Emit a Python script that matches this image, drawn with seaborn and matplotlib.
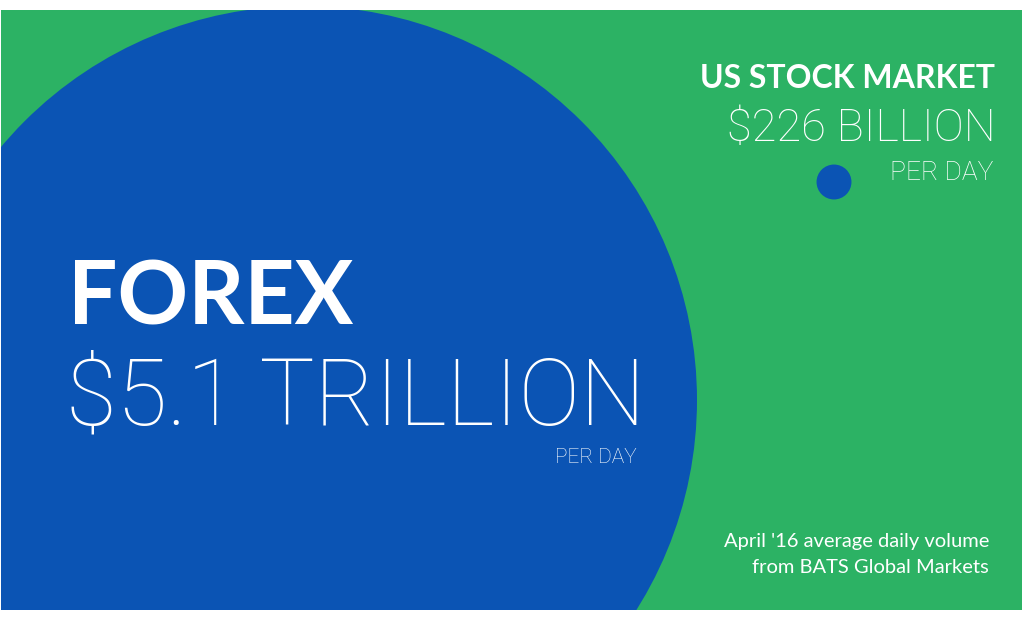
import matplotlib
matplotlib.use('Agg')
import matplotlib.pyplot as plt
import seaborn as sns
import pandas as pd

# data
markets = ['FOREX', 'US STOCK MARKET']
volume_bn = [5100, 226]          # average daily volume, billions USD
amounts = ['$5.1 TRILLION', '$226 BILLION']
unit = 'PER DAY'
source = "April '16 average daily volume\nfrom BATS Global Markets"

GREEN = '#2cb264'
BLUE = '#0b54b4'
DPI = 100
LIGHT = ['Roboto', 'DejaVu Sans']

sns.set_theme(style='white')
plt.rcParams['font.family'] = ['Lato', 'DejaVu Sans']

fig = plt.figure(figsize=(10.24, 6.21), dpi=DPI, facecolor='white')
# axes = green panel, data units = pixels
ax = fig.add_axes([1 / 1024, 11 / 621, 1021 / 1024, 600 / 621])
ax.set_facecolor(GREEN)

df = pd.DataFrame({'market': markets, 'volume': volume_bn,
                   'cx': [303, 834], 'cy': [400, 182]})

# circle radius proportional to volume (big circle ~394 px)
r_max = 394
sizes = {v: (2 * r_max * v / max(volume_bn) * 72 / DPI) ** 2 for v in volume_bn}

sns.scatterplot(data=df, x='cx', y='cy', size='volume', sizes=sizes,
                color=BLUE, linewidth=0, legend=False, ax=ax)

ax.set_xlim(1, 1022)
ax.set_ylim(610, 10)
ax.set(xticks=[], yticks=[], xlabel='', ylabel='')
sns.despine(ax=ax, left=True, bottom=True)

# big circle text
ax.text(68, 325, markets[0], color='white', fontsize=63, fontweight='bold',
        va='baseline', ha='left')
ax.text(66, 425, amounts[0], color='white', fontsize=66.5, fontweight='light',
        family=LIGHT, va='baseline', ha='left')
ax.text(637, 463, unit, color='white', fontsize=15, fontweight='light',
        family=LIGHT, va='baseline', ha='right')

# small circle text
ax.text(995, 88, markets[1], color='white', fontsize=23, fontweight='bold',
        va='baseline', ha='right')
ax.text(996, 141, amounts[1], color='white', fontsize=32.5, fontweight='light',
        family=LIGHT, va='baseline', ha='right')
ax.text(993, 180, unit, color='white', fontsize=19, fontweight='light',
        family=LIGHT, va='baseline', ha='right')

ax.text(989, 573, source, color='white', fontsize=14.5, ha='right',
        va='baseline', multialignment='right', linespacing=1.62)

fig.savefig('out.png', dpi=DPI, facecolor='white')
